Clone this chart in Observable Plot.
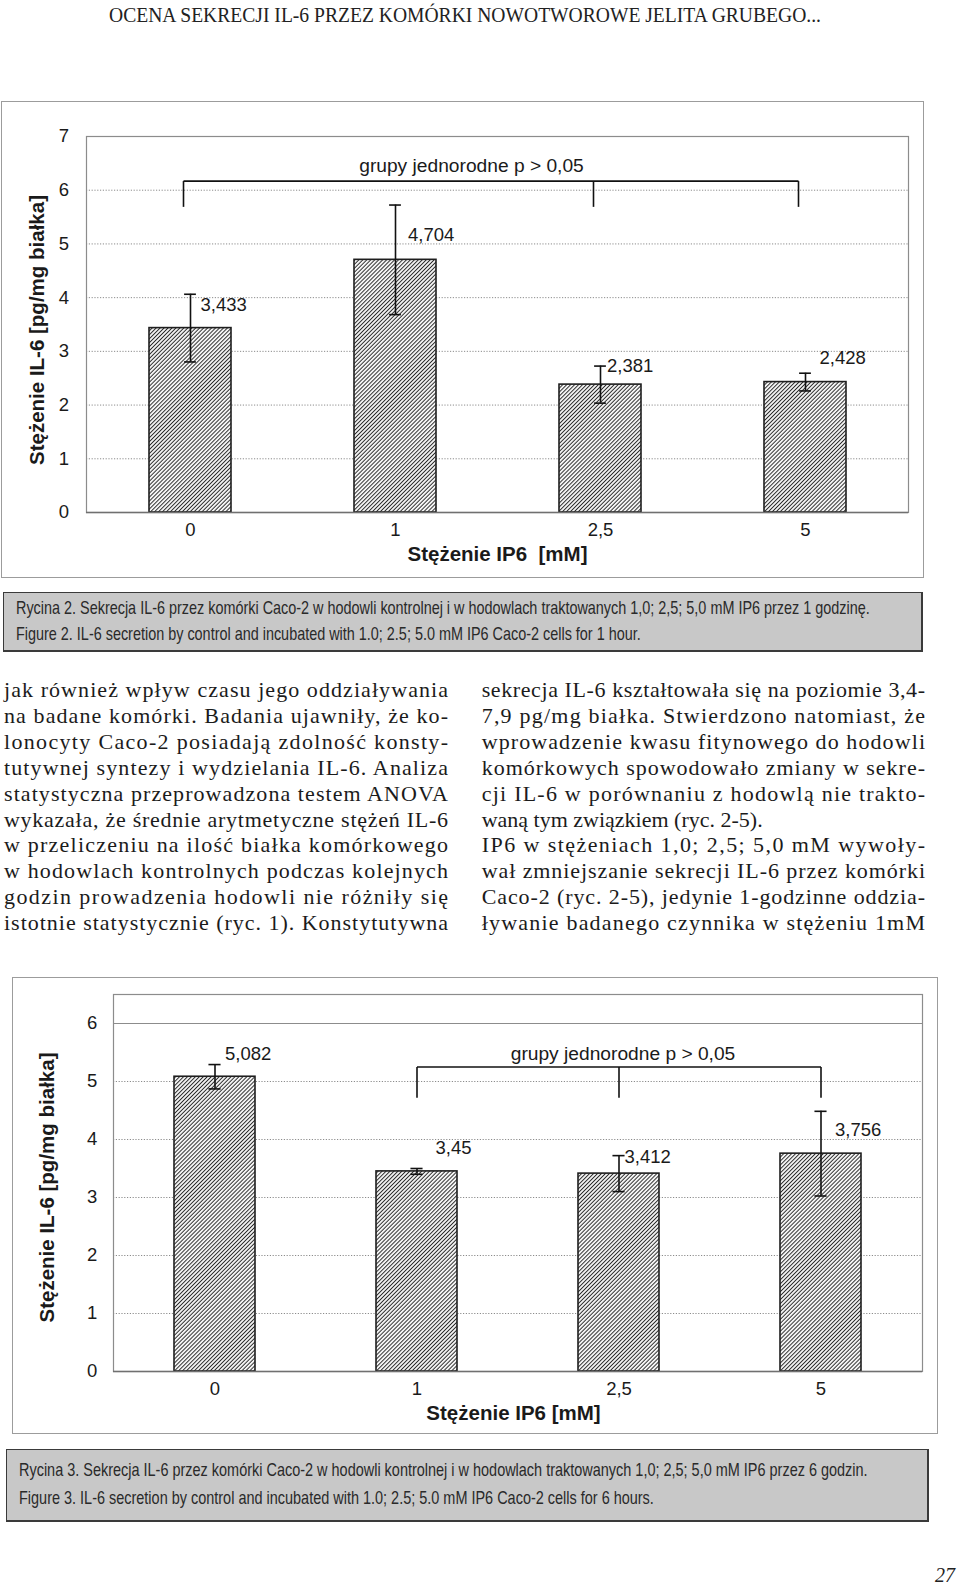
<!DOCTYPE html>
<html><head><meta charset="utf-8">
<script src="https://cdn.jsdelivr.net/npm/d3@7"></script>
<script src="https://cdn.jsdelivr.net/npm/@observablehq/plot@0.6"></script>
<style>
html,body{margin:0;padding:0;background:#fff;}
#page{position:relative;width:960px;height:1586px;overflow:hidden;background:#fff;}
.frame{position:absolute;box-sizing:border-box;border:1.5px solid #9c9c9c;}
.cap{position:absolute;box-sizing:border-box;background:#c8c8c8;border:1.5px solid #3a3a3a;border-right-width:2px;border-bottom-width:2px;}
.chart{position:absolute;}
#overlay{position:absolute;left:0;top:0;pointer-events:none;}
</style></head><body><div id="page"></div>
<script>
// ---------------- data ----------------
const concentrations = ["0", "1", "2,5", "5"];

const il6_1h = [3.433, 4.704, 2.381, 2.428];
const sd_1h = [0.63, 1.02, 0.345, 0.165];
const labels_1h = ["3,433", "4,704", "2,381", "2,428"];
const yTicks_1h = [0, 1, 2, 3, 4, 5, 6, 7];
const grid_1h = [1, 2, 3, 4, 5, 6];
const bracketCats_1h = ["0", "2,5", "5"];
const bracketLevel_1h = [6.17, 5.69];

const il6_6h = [5.082, 3.45, 3.412, 3.756];
const sd_6h = [0.21, 0.05, 0.31, 0.73];
const labels_6h = ["5,082", "3,45", "3,412", "3,756"];
const yTicks_6h = [0, 1, 2, 3, 4, 5, 6];
const grid_6h = [1, 2, 3, 4, 5];
const solid_6h = [6];
const bracketCats_6h = ["1", "2,5", "5"];
const bracketLevel_6h = [5.25, 4.72];

const yTitle = "Stężenie IL-6 [pg/mg białka]";
const xTitle_1h = "Stężenie IP6  [mM]";
const xTitle_6h = "Stężenie IP6 [mM]";
const bracketText = "grupy jednorodne p > 0,05";

const headerText = "OCENA SEKRECJI IL-6 PRZEZ KOMÓRKI NOWOTWOROWE JELITA GRUBEGO...";
const caption2 = [
  "Rycina 2. Sekrecja IL-6 przez komórki Caco-2 w hodowli kontrolnej i w hodowlach traktowanych 1,0; 2,5; 5,0 mM IP6 przez 1 godzinę.",
  "Figure 2. IL-6 secretion by control and incubated with 1.0; 2.5; 5.0 mM IP6 Caco-2 cells for 1 hour."
];
const caption3 = [
  "Rycina 3. Sekrecja IL-6 przez komórki Caco-2 w hodowli kontrolnej i w hodowlach traktowanych 1,0; 2,5; 5,0 mM IP6 przez 6 godzin.",
  "Figure 3. IL-6 secretion by control and incubated with 1.0; 2.5; 5.0 mM IP6 Caco-2 cells for 6 hours."
];
const leftLines = [
  "jak również wpływ czasu jego oddziaływania",
  "na badane komórki. Badania ujawniły, że ko-",
  "lonocyty Caco-2 posiadają zdolność konsty-",
  "tutywnej syntezy i wydzielania IL-6. Analiza",
  "statystyczna przeprowadzona testem ANOVA",
  "wykazała, że średnie arytmetyczne stężeń IL-6",
  "w przeliczeniu na ilość białka komórkowego",
  "w hodowlach kontrolnych podczas kolejnych",
  "godzin prowadzenia hodowli nie różniły się",
  "istotnie statystycznie (ryc. 1). Konstytutywna"
];
const rightLines = [
  "sekrecja IL-6 kształtowała się na poziomie 3,4-",
  "7,9 pg/mg białka. Stwierdzono natomiast, że",
  "wprowadzenie kwasu fitynowego do hodowli",
  "komórkowych spowodowało zmiany w sekre-",
  "cji IL-6 w porównaniu z hodowlą nie trakto-",
  "waną tym związkiem (ryc. 2-5).",
  "IP6 w stężeniach 1,0; 2,5; 5,0 mM wywoły-",
  "wał zmniejszanie sekrecji IL-6 przez komórki",
  "Caco-2 (ryc. 2-5), jedynie 1-godzinne oddzia-",
  "ływanie badanego czynnika w stężeniu 1mM"
];
const rightJustified = [true, true, true, true, true, false, true, true, true, true];
const pageNumber = "27";

// ---------------- helpers ----------------
const NS = "http://www.w3.org/2000/svg";
function el(tag, attrs, parent) {
  const e = document.createElementNS(NS, tag);
  for (const k in attrs) e.setAttribute(k, attrs[k]);
  if (parent) parent.appendChild(e);
  return e;
}
const page = document.getElementById("page");

// hatch pattern defs
const defsSvg = el("svg", {width: 0, height: 0, style: "position:absolute;left:0;top:0"});
page.appendChild(defsSvg);
const defs = el("defs", {}, defsSvg);
const P = 2.8;
const pat = el("pattern", {id: "hatch", patternUnits: "userSpaceOnUse", width: P, height: P, patternTransform: "rotate(45)"}, defs);
el("rect", {width: P, height: P, fill: "#ffffff"}, pat);
el("line", {x1: P / 2, y1: -1, x2: P / 2, y2: P + 1, stroke: "#2b2b2b", "stroke-width": 1.05}, pat);

const FONT = "'Liberation Sans', Arial, sans-serif";
const NARROW = "'Liberation Sans Narrow', 'Arial Narrow', 'Liberation Sans', Arial, sans-serif";

function barChart(cfg) {
  const rows = concentrations.map((c, i) => ({c, v: cfg.values[i], e: cfg.errors[i], lab: cfg.labels[i]}));
  const plotW = cfg.width - cfg.mL - cfg.mR;
  const bw = plotW / concentrations.length * 0.4;
  const capInset = (bw - 12) / 2;
  const marks = [
    Plot.ruleY(cfg.grid, {stroke: "#8c8c8c", strokeDasharray: "1.2,1.6", strokeWidth: 1}),
    Plot.ruleY(cfg.solid || [], {stroke: "#8c8c8c", strokeWidth: 1.2}),
    Plot.frame({stroke: "#8c8c8c", strokeWidth: 1.2}),
    Plot.barY(rows, {x: "c", y: "v", fill: "url(#hatch)", stroke: "#1e1e1e", strokeWidth: 1.6}),
    Plot.ruleY([0], {stroke: "#707070", strokeWidth: 1.6}),
    Plot.ruleX(rows, {x: "c", y1: d => d.v - d.e, y2: d => d.v + d.e, stroke: "#111", strokeWidth: 1.6}),
    Plot.tickY(rows, {x: "c", y: d => d.v + d.e, insetLeft: capInset, insetRight: capInset, stroke: "#111", strokeWidth: 1.6}),
    Plot.tickY(rows, {x: "c", y: d => d.v - d.e, insetLeft: capInset, insetRight: capInset, stroke: "#111", strokeWidth: 1.6}),
    ...rows.map((r, i) => Plot.text([r], {x: "c", y: d => d.v + d.e, text: "lab", textAnchor: "start",
      dx: cfg.labelOffsets[i][0], dy: cfg.labelOffsets[i][1], fontSize: 18.5, fill: "#1a1a1a"})),
    // bracket
    Plot.link(cfg.bracketCats, {x1: d => d, x2: d => d, y1: cfg.bracketLevel[0], y2: cfg.bracketLevel[1], dx: cfg.bracketDx, stroke: "#111", strokeWidth: 1.6}),
    Plot.link([cfg.bracketCats], {x1: d => d[0], x2: d => d[d.length - 1], y1: cfg.bracketLevel[0], y2: cfg.bracketLevel[0], dx: cfg.bracketDx, stroke: "#111", strokeWidth: 1.6}),
    Plot.text([bracketText], {frameAnchor: "top", dx: cfg.bracketTextDx, dy: cfg.bracketTextDy, fontSize: 19.2, fill: "#1a1a1a"}),
    // titles
    Plot.text([yTitle], {frameAnchor: "left", textAnchor: "middle", rotate: -90, dx: cfg.yTitleDx, dy: cfg.yTitleDy, fontSize: 20.5, fontWeight: "bold", fill: "#1a1a1a"}),
    Plot.text([cfg.xTitle], {frameAnchor: "bottom", dx: cfg.xTitleDx, dy: cfg.xTitleDy, fontSize: 20.5, fontWeight: "bold", fill: "#1a1a1a"})
  ];
  return Plot.plot({
    width: cfg.width, height: cfg.height,
    marginLeft: cfg.mL, marginRight: cfg.mR, marginTop: cfg.mT, marginBottom: cfg.mB,
    x: {domain: concentrations, paddingInner: 0.6, paddingOuter: 0.3, tickSize: 0, tickPadding: 10.5, label: null},
    y: {domain: [0, cfg.yMax], ticks: cfg.yTicks, tickSize: 0, tickPadding: cfg.yTickPadding, label: null, tickFormat: d => String(d)},
    style: {fontSize: "18.5px", fontFamily: FONT, background: "transparent", color: "#1a1a1a", overflow: "visible"},
    marks
  });
}

function place(node, left, top) {
  const wrap = document.createElement("div");
  wrap.className = "chart";
  wrap.style.left = left + "px";
  wrap.style.top = top + "px";
  wrap.appendChild(node);
  page.appendChild(wrap);
}
function box(cls, l, t, w, h) {
  const d = document.createElement("div");
  d.className = cls;
  Object.assign(d.style, {left: l + "px", top: t + "px", width: w + "px", height: h + "px"});
  page.appendChild(d);
}

// ---------------- chart 1 (1 hour) ----------------
box("frame", 1, 101, 923, 477);
place(barChart({
  values: il6_1h, errors: sd_1h, labels: labels_1h,
  yMax: 7, yTicks: yTicks_1h, grid: grid_1h, solid: [],
  width: 923, height: 477, mL: 85, mR: 16, mT: 35, mB: 66, yTickPadding: 17.5,
  labelOffsets: [[10, 11], [12.5, 30.5], [6.5, 0], [14, -15]],
  bracketCats: bracketCats_1h, bracketLevel: bracketLevel_1h, bracketDx: -7,
  bracketTextDx: -26, bracketTextDy: 22,
  yTitleDx: -49, yTitleDy: 5.5, xTitle: xTitle_1h, xTitleDx: 0, xTitleDy: 48.5
}), 1, 101);

// ---------------- chart 2 (6 hours) ----------------
box("frame", 12, 977, 926, 457);
place(barChart({
  values: il6_6h, errors: sd_6h, labels: labels_6h,
  yMax: 6.5, yTicks: yTicks_6h, grid: grid_6h, solid: solid_6h,
  width: 926, height: 457, mL: 101, mR: 16, mT: 17, mB: 63, yTickPadding: 16.3,
  labelOffsets: [[10, -10], [18.5, -20.5], [5.5, 1.5], [14, 18.5]],
  bracketCats: bracketCats_6h, bracketLevel: bracketLevel_6h, bracketDx: 0,
  bracketTextDx: 105, bracketTextDy: 52,
  yTitleDx: -66, yTitleDy: 4.5, xTitle: xTitle_6h, xTitleDx: -4.5, xTitleDy: 48
}), 12, 977);

// ---------------- caption boxes ----------------
box("cap", 3, 592, 920, 60);
box("cap", 6, 1449, 923, 73);

// ---------------- text overlay ----------------
const ov = el("svg", {id: "overlay", width: 960, height: 1586});
page.appendChild(ov);
const SERIF = "'Liberation Serif', 'Times New Roman', serif";

function addText(str, attrs, parent) {
  const t = el("text", Object.assign({fill: "#1b1b1b"}, attrs), parent || ov);
  t.textContent = str;
  return t;
}
// header
addText(headerText, {x: 109, y: 22, "font-family": SERIF, "font-size": 21, textLength: 712, lengthAdjust: "spacingAndGlyphs", fill: "#222"});

// body columns
leftLines.forEach((s, i) => addText(s, {x: 4, y: 697 + i * 25.9, "font-family": SERIF, "font-size": 22, textLength: 444, lengthAdjust: "spacing"}));
rightLines.forEach((s, i) => {
  const a = {x: 481.7, y: 697 + i * 25.9, "font-family": SERIF, "font-size": 22};
  if (rightJustified[i]) { a.textLength = 443.3; a.lengthAdjust = "spacing"; }
  addText(s, a);
});

// captions: condensed by a horizontal scale that makes the first line fit its measured width
function caption(lines, x, y0, step, firstWidth) {
  const g = el("g", {}, ov);
  const ts = lines.map((s, i) => addText(s, {x: 0, y: y0 + i * step, "font-family": NARROW, "font-size": 17.5, fill: "#2a2a2a"}, g));
  const k = firstWidth / ts[0].getComputedTextLength();
  g.setAttribute("transform", `translate(${x},0) scale(${k},1)`);
}
caption(caption2, 16, 614, 26, 855);
caption(caption3, 19, 1476, 28, 849);

// page number
addText(pageNumber, {x: 955, y: 1582, "font-family": SERIF, "font-size": 20, "font-style": "italic", "text-anchor": "end", fill: "#222"});
</script></body></html>
